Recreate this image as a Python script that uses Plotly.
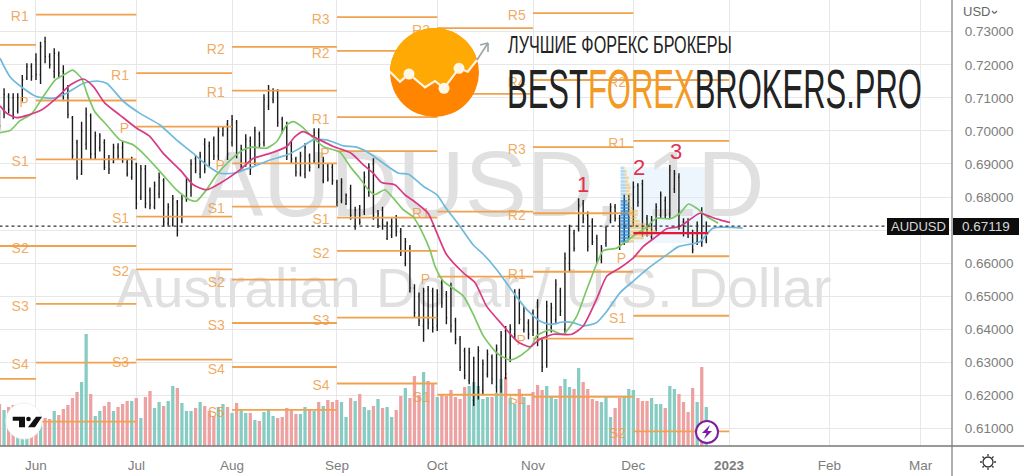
"""AUDUSD daily chart with pivots, moving averages and volume, rebuilt from a screenshot."""

import math

import plotly.graph_objects as go

FONT = "Liberation Sans"
PIVOT_COLOR = "#f0a24e"
GRID = "#e7e7e7"
AXIS_TEXT = "#7d7d7d"
RED_MARK = "#e0334f"

PLOT_W = 952
PLOT_H = 446

# one bar per trading day, 0 is 1 June 2022
BAR_X = list(range(-8, 148))

HIGHS = [
    .7063, .7129, .7114, .7114, .7114, .7169, .7205, .7205, .7235, .7270, .7285, .7235, .7250,
    .7240, .7199, .7139, .7045, .6973, .7028, .7071, .7053, .6998, .6993, .6975, .6927, .6961,
    .6963, .6968, .6912, .6922, .6904, .6897, .6897, .6829, .6847, .6874, .6857, .6781, .6806,
    .6791, .6806, .6857, .6914, .6927, .6937, .6978, .6968, .6983, .7013, .7015, .7033, .7048,
    .7033, .6958, .6990, .6983, .7013, .6998, .7111, .7139, .7129, .7126, .7043, .7028, .6968,
    .6922, .6937, .6963, .6932, .7008, .7008, .6922, .6902, .6902, .6852, .6857, .6811, .6837,
    .6771, .6776, .6877, .6902, .6917, .6761, .6771, .6726, .6736, .6746, .6706, .6676, .6655,
    .6536, .6511, .6526, .6531, .6526, .6521, .6551, .6516, .6541, .6435, .6380, .6344, .6344,
    .6317, .6349, .6309, .6339, .6324, .6354, .6395, .6410, .6415, .6521, .6523, .6470, .6430,
    .6460, .6491, .6375, .6486, .6480, .6551, .6526, .6632, .6716, .6701, .6796, .6791, .6756,
    .6736, .6686, .6655, .6711, .6781, .6779, .6746, .6807, .6807, .6847, .6842, .6852, .6746,
    .6743, .6781, .6817, .6802, .6897, .6882, .6872, .6736, .6736, .6701, .6726, .6769, .6726,
]
LOWS = [
    .7003, .7038, .7053, .7035, .7053, .7089, .7154, .7152, .7154, .7142, .7205, .7189, .7159,
    .7159, .7094, .7038, .6914, .6852, .6867, .6943, .6912, .6912, .6938, .6882, .6870, .6902,
    .6912, .6904, .6862, .6852, .6763, .6791, .6766, .6763, .6763, .6796, .6711, .6713, .6711,
    .6681, .6721, .6786, .6801, .6872, .6857, .6872, .6892, .6912, .6912, .6983, .6912, .6953,
    .6917, .6887, .6892, .6867, .6897, .6948, .6953, .7063, .7084, .7013, .6993, .6912, .6902,
    .6862, .6862, .6857, .6877, .6902, .6887, .6842, .6847, .6837, .6771, .6781, .6776, .6731,
    .6701, .6716, .6746, .6801, .6731, .6706, .6701, .6670, .6676, .6681, .6622, .6591, .6511,
    .6435, .6410, .6362, .6400, .6390, .6395, .6465, .6415, .6390, .6355, .6274, .6249, .6234,
    .6168, .6188, .6203, .6254, .6234, .6208, .6208, .6249, .6301, .6370, .6415, .6390, .6370,
    .6380, .6349, .6271, .6284, .6390, .6415, .6440, .6385, .6576, .6635, .6696, .6721, .6635,
    .6655, .6600, .6600, .6650, .6721, .6726, .6640, .6655, .6670, .6711, .6771, .6681, .6681,
    .6670, .6696, .6736, .6736, .6736, .6812, .6701, .6681, .6676, .6630, .6655, .6650, .6660,
]
OPENS = [
    .7050, .7060, .7105, .7100, .7060, .7100, .7160, .7195, .7215, .7170, .7270, .7225, .7180,
    .7230, .7180, .7120, .7040, .6965, .6870, .6960, .7045, .6930, .6950, .6965, .6915, .6905,
    .6950, .6950, .6905, .6860, .6900, .6800, .6885, .6820, .6770, .6810, .6850, .6720, .6715,
    .6785, .6730, .6795, .6815, .6915, .6870, .6960, .6955, .6975, .6925, .6990, .7020, .6965,
    .7025, .6900, .6905, .6970, .6905, .6990, .6965, .7075, .7095, .7120, .7035, .7015, .6955,
    .6915, .6870, .6870, .6925, .6910, .6995, .6850, .6895, .6890, .6845, .6790, .6780, .6825,
    .6710, .6765, .6755, .6815, .6900, .6715, .6760, .6675, .6685, .6735, .6695, .6600, .6645,
    .6525, .6500, .6410, .6520, .6515, .6410, .6540, .6505, .6525, .6425, .6370, .6335, .6245,
    .6185, .6200, .6215, .6265, .6315, .6225, .6225, .6395, .6315, .6385, .6510, .6400, .6420,
    .6450, .6480, .6365, .6300, .6405, .6430, .6515, .6400, .6600, .6690, .6705, .6780, .6745,
    .6725, .6675, .6610, .6660, .6730, .6770, .6735, .6670, .6680, .6725, .6835, .6840, .6735,
    .6680, .6705, .6745, .6790, .6750, .6825, .6860, .6725, .6725, .6690, .6665, .6755, .6670,
]
CLOSES = [
    .7015, .7110, .7065, .7045, .7100, .7155, .7195, .7165, .7170, .7255, .7225, .7200, .7235,
    .7175, .7110, .7050, .6925, .6860, .7000, .7050, .6930, .6985, .6985, .6890, .6885, .6950,
    .6925, .6915, .6870, .6905, .6780, .6885, .6780, .6775, .6835, .6860, .6725, .6770, .6795,
    .6700, .6795, .6845, .6900, .6880, .6925, .6885, .6905, .6925, .7000, .7010, .6930, .7035,
    .6930, .6945, .6975, .6885, .7000, .6960, .7095, .7125, .7120, .7025, .7005, .6925, .6915,
    .6875, .6925, .6950, .6890, .6995, .6900, .6910, .6855, .6850, .6785, .6845, .6805, .6745,
    .6760, .6725, .6860, .6890, .6745, .6750, .6715, .6720, .6725, .6695, .6635, .6665, .6525,
    .6450, .6425, .6515, .6420, .6405, .6505, .6480, .6435, .6410, .6370, .6285, .6260, .6330,
    .6300, .6335, .6295, .6325, .6250, .6340, .6380, .6265, .6400, .6505, .6430, .6455, .6385,
    .6395, .6365, .6285, .6470, .6465, .6535, .6455, .6615, .6700, .6645, .6775, .6735, .6650,
    .6665, .6610, .6645, .6700, .6770, .6735, .6655, .6790, .6795, .6830, .6785, .6695, .6690,
    .6730, .6770, .6805, .6745, .6880, .6870, .6715, .6690, .6690, .6640, .6715, .6665, .67119,
]
VOLUMES = [
    42, 36, 39, 41, 24, 24, 24, 24, 24, 24, 28, 27, 35, 31, 37, 41, 48, 54, 64, 112, 52, 30, 35,
    40, 44, 35, 39, 42, 45, 45, 48, 28, 49, 55, 38, 44, 40, 45, 60, 58, 43, 35, 35, 38, 44, 40,
    35, 30, 39, 42, 39, 33, 43, 37, 33, 33, 26, 25, 34, 36, 30, 28, 29, 38, 36, 32, 32, 39, 36,
    35, 44, 40, 46, 44, 46, 44, 29, 48, 45, 52, 39, 36, 40, 47, 38, 39, 29, 36, 50, 58, 48, 70,
    51, 74, 65, 62, 49, 52, 50, 56, 49, 47, 59, 60, 64, 60, 47, 49, 49, 53, 67, 69, 48, 42, 57,
    49, 41, 54, 61, 56, 60, 49, 47, 60, 67, 59, 57, 78, 64, 57, 47, 45, 44, 49, 29, 38, 48, 50,
    57, 56, 48, 45, 45, 48, 42, 42, 38, 60, 57, 52, 44, 34, 58, 44, 79, 39,
]

GREEN_X = [
    -7.9, -5.7, -3.5, -1, 1.6, 4.2, 6.4, 8, 10, 11.3, 12.9, 15.5, 18.4, 21.3, 23.5, 27.2, 30.8,
    33.8, 35.2, 37.4, 39.6, 42.5, 45.5, 47.3, 50.6, 52.8, 55, 56.4, 58.3, 60.5, 63, 66.7, 68.9,
    71, 72.9, 74.3, 76.5, 78.4, 80.6, 82.8, 84.6, 86.4, 87.5, 89.3, 93.7, 95.9, 98.1, 101, 103.9,
    106.1, 108.7, 109.8, 112.7, 115.6, 118.6, 120.4, 122.9, 124.4, 127.3, 128.8, 131.7, 133.6,
    136.1, 139, 141.2, 143.1, 144.9, 147.1, 149.6,
]
GREEN_MA = [
    .6995, .7001, .7031, .7051, .7104, .7154, .7172, .7184, .7159, .7109, .7058, .7018, .6973,
    .6958, .6932, .6877, .6822, .6791, .6788, .6822, .6867, .6910, .6943, .6951, .6948, .6968,
    .7018, .7028, .7013, .6983, .6953, .6935, .6892, .6857, .6822, .6807, .6822, .6796, .6761,
    .6739, .6696, .6640, .6591, .6546, .6501, .6445, .6380, .6329, .6307, .6319, .6349, .6380,
    .6398, .6385, .6440, .6506, .6596, .6638, .6645, .6660, .6689, .6706, .6736, .6734, .6751,
    .6779, .6766, .6741, .6721,
]
PINK_X = [
    -7.9, -6.4, -4.2, -1.7, 1.2, 4.5, 7.5, 10.4, 12.6, 15.1, 18.4, 22.1, 25, 27.9, 31.6, 34.5,
    37.4, 40.4, 44.7, 47.7, 51.3, 55, 56.8, 58.6, 61.5, 65.2, 69.2, 71.8, 74, 75.8, 78.7, 80.9,
    83.5, 86, 88.2, 90, 93.7, 96.3, 98.8, 102.5, 105.5, 108.3, 110.5, 113.5, 117.5, 120, 122.9,
    125.2, 128.1, 131, 133.2, 136.1, 138.3, 141.2, 143.8, 145.6, 147.8, 150, 152.2,
]
PINK_MA = [
    .7076, .7053, .7040, .7048, .7063, .7099, .7139, .7157, .7134, .7084, .7048, .7008, .6983,
    .6932, .6882, .6837, .6822, .6842, .6882, .6917, .6932, .6953, .6983, .6998, .6978, .6953,
    .6932, .6897, .6872, .6844, .6837, .6807, .6781, .6751, .6682, .6627, .6571, .6541, .6470,
    .6410, .6364, .6347, .6370, .6385, .6385, .6410, .6490, .6561, .6586, .6616, .6651, .6681,
    .6704, .6711, .6736, .6751, .6741, .6731, .6723,
]
BLUE_X = [
    -7.9, -5.7, -2.8, .1, 3.8, 6.7, 10.4, 13.3, 15.5, 19.2, 22.8, 27.2, 30.8, 34.5, 37.4, 40.4,
    43.3, 47.7, 51.3, 55, 57.9, 60.8, 63.7, 67.4, 70.3, 73.2, 76.2, 79.5, 81.7, 85, 87.9, 89.7,
    93, 95.9, 98.1, 101, 104.7, 107.6, 110.5, 112.7, 115.6, 117.8, 120, 122.9, 125.2, 128.1, 131,
    134.3, 138.3, 140.9, 145.6, 148.5, 155,
]
BLUE_MA = [
    .7220, .7164, .7129, .7104, .7099, .7114, .7144, .7151, .7144, .7089, .7053, .7018, .6973,
    .6932, .6897, .6872, .6872, .6892, .6912, .6927, .6948, .6973, .6973, .6955, .6951, .6932,
    .6902, .6872, .6869, .6832, .6807, .6771, .6711, .6655, .6627, .6581, .6511, .6460, .6425,
    .6415, .6422, .6420, .6410, .6420, .6455, .6511, .6546, .6585, .6625, .6650, .6665, .6706,
    .6706,
]

# monthly pivot levels
PIVOT_NAME = [
    "", "", "", "",
    "R1", "P", "S1", "S2", "S3", "S4", "S5",
    "R1", "P", "S1", "S2", "S3",
    "R2", "R1", "P", "S1", "S2", "S3", "S4", "S5",
    "R3", "R2", "R1", "P", "S1", "S2", "S3", "S4",
    "R3", "R2", "R1", "P", "S1",
    "R5", "R4", "R3", "R2", "R1", "P", "S1",
    "R2", "R1", "P", "S1", "S2",
]
PIVOT_START = [-8] * 4 + [0] * 7 + [22] * 5 + [43] * 8 + [66] * 8 + [88] * 5 + [109] * 7 + [131] * 5
PIVOT_END = [0] * 4 + [22] * 7 + [43] * 5 + [66] * 8 + [88] * 8 + [109] * 5 + [131] * 7 + [152] * 5
PIVOT_LEVEL = [
    .7260, .6858, .6652, .6250,
    .7352, .7092, .6914, .6652, .6477, .6299, .6121,
    .7175, .7013, .6741, .6581, .6308,
    .7254, .7122, .6902, .6771, .6550, .6419, .6286, .6156,
    .7344, .7242, .7042, .6939, .6738, .6637, .6435, .6236,
    .7311, .7112, .6756, .6559, .6202,
    .7356, .7154, .6951, .6751, .6574, .6372, .6196,
    .7154, .6970, .6621, .6441, .6091,
]

# volume profile of the last month, lengths in bars
VP_PRICE = [
    .6888, .6878, .6868, .6858, .6847, .6837, .6828, .6818, .6808, .6797, .6787, .6777, .6767,
    .6757, .6747, .6737, .6727, .6717, .6707, .6696, .6686, .6676, .6666,
]
VP_BLUE = [
    .7, .9, .9, 1.1, .9, 1.1, 1.3, 1.1, 1.3, 1.3, 1.5, 1.8, 1.8, 1.8, 1.8, 2, 2, 2, 2, 2, 2, 2, 1.8,
]
VP_YELLOW = [
    .2, .4, .4, .7, .7, .9, .9, .9, 1.1, .7, .7, .4, .9, 2, 2, 1.5, 2.2, 3.5, 4.8, 5.7, 4.8, 3.1, 1.1,
]
VP_START = 128.2
VP_END = 147.4
POC_PRICE = .6691

LAST_PRICE = .67119

PRICE_TICKS = [.61, .62, .63, .64, .65, .66, .67, .68, .69, .70, .71, .72, .73]
MONTH_TICKS = [0, 22, 43, 66, 88, 109, 131, 152, 174, 194]
MONTH_LABELS = ["Jun", "Jul", "Aug", "Sep", "Oct", "Nov", "Dec", "<b>2023</b>", "Feb", "Mar"]

WAVE_X = [120, 132.2, 140.3]
WAVE_Y = [.6837, .6888, .6939]
WAVE_TEXT = ["1", "2", "3"]

# no narrow face is installed, so the brand lines get squeezed to their width once drawn
SQUEEZE_JS = """
document.body.style.margin = '0';
var widths = {'BEST': 415, 'ЛУЧШ': 224};
document.querySelectorAll('.annotation-text').forEach(function (t) {
    var w = widths[t.textContent.slice(0, 4)];
    if (!w) return;
    var b = t.getBBox();
    t.setAttribute('transform',
        'translate(' + b.x + ',0) scale(' + (w / b.width) + ',1) translate(' + (-b.x) + ',0)');
});
"""


def px(x, y):
    """Screen pixels to paper coordinates."""
    return x / PLOT_W, 1 - y / PLOT_H


def path(points, close=True):
    parts = []
    for n, (x, y) in enumerate(points):
        pap_x, pap_y = px(x, y)
        parts.append(f"{'M' if n == 0 else 'L'}{pap_x:.5f},{pap_y:.5f}")
    return " ".join(parts) + (" Z" if close else "")


def paper_shape(**kw):
    return dict(xref="paper", yref="paper", layer="above", **kw)


def circle(cx, cy, r, **kw):
    x0, y0 = px(cx - r, cy + r)
    x1, y1 = px(cx + r, cy - r)
    return paper_shape(type="circle", x0=x0, y0=y0, x1=x1, y1=y1, **kw)


def segment(x0, y0, x1, y1, color, width):
    a, b = px(x0, y0)
    c, d = px(x1, y1)
    return paper_shape(type="line", x0=a, y0=b, x1=c, y1=d, line=dict(color=color, width=width))


def box(x0, y0, x1, y1, color):
    a, b = px(x0, y1)
    c, d = px(x1, y0)
    return paper_shape(type="rect", x0=a, y0=b, x1=c, y1=d, fillcolor=color, line=dict(width=0))


def logo_shapes():
    cx, cy, r = 434.5, 72.5, 44.5
    zigzag = [(390, 71.7), (400, 81.7), (409, 74), (425, 87.3), (435, 81), (444, 88.3),
              (459, 68.3), (467.7, 71.7), (477, 60)]
    # upper part of the disc, arc drawn as a polyline over the top
    arc = []
    a0 = math.atan2(zigzag[-1][1] - cy, zigzag[-1][0] - cx)
    a1 = math.atan2(zigzag[0][1] - cy, zigzag[0][0] - cx)
    for k in range(41):
        ang = a0 + (a1 - a0) * k / 40
        arc.append((cx + r * math.cos(ang), cy + r * math.sin(ang)))
    shapes = [
        circle(cx, cy, r, fillcolor="#ff8500", line=dict(width=0)),
        paper_shape(type="path", path=path(arc + zigzag), fillcolor="#ffa905", line=dict(width=0)),
        paper_shape(type="path", path=path(zigzag, close=False), line=dict(color="#fff6e6", width=2.2)),
        segment(477, 60, 488, 43, "#9aa3a8", 1.6),
        segment(488, 43, 480, 45, "#9aa3a8", 1.6),
        segment(488, 43, 488, 52, "#9aa3a8", 1.6),
    ]
    for dot_x, dot_y in [(409, 74), (444, 88.3), (459, 68.3)]:
        shapes.append(circle(dot_x, dot_y, 5.5, fillcolor="#fff6e6", line=dict(width=0)))
    return shapes


def badge_shapes():
    shapes = [
        # TradingView badge
        circle(24, 421, 18, fillcolor="white", line=dict(color="#f1f1f1", width=1)),
        paper_shape(type="path", fillcolor="#111", line=dict(width=0), path=path(
            [(12.7, 416.7), (25, 416.7), (25, 427.3), (19, 427.3), (19, 420.7), (12.7, 420.7)])),
        circle(28.5, 419, 2.3, fillcolor="#111", line=dict(width=0)),
        paper_shape(type="path", fillcolor="#111", line=dict(width=0), path=path(
            [(36, 416.7), (42, 416.7), (35, 427.3), (28, 427.3)])),
        # lightning badge
        circle(707, 432, 11, fillcolor="white", line=dict(color="#7b1fa2", width=2)),
        paper_shape(type="path", fillcolor="#7b1fa2", line=dict(width=0), path=path(
            [(710, 425), (702, 433), (706.5, 433), (704, 439), (712, 431), (707.5, 431)])),
    ]
    return shapes


def chrome_shapes():
    shapes = [
        segment(952, 0, 952, 476, "#8c8c8c", 1.4),
        segment(0, 446, 1024, 446, "#777777", 1.6),
        box(887, 218, 949, 235, "#0d0d0d"),
        box(953, 218, 1019, 235, "#0d0d0d"),
        # currency chevron
        segment(992, 11, 994.5, 13.5, "#666", 1.2),
        segment(994.5, 13.5, 997, 11, "#666", 1.2),
        # settings sun
        circle(988, 462, 5, fillcolor="white", line=dict(color="#333", width=1.3)),
    ]
    for x0, y0, x1, y1 in [(988, 454, 988, 456), (988, 468, 988, 470), (980, 462, 982, 462), (994, 462, 996, 462),
                           (982.5, 456.5, 984, 458), (992, 466, 993.5, 467.5), (982.5, 467.5, 984, 466),
                           (992, 458, 993.5, 456.5)]:
        shapes.append(segment(x0, y0, x1, y1, "#333", 1.3))
    return shapes


def text_note(x, y, text, size, color, xanchor="center"):
    pap_x, pap_y = px(x, y)
    return dict(xref="paper", yref="paper", x=pap_x, y=pap_y, text=text, showarrow=False,
                xanchor=xanchor, yanchor="middle", font=dict(family=FONT, size=size, color=color))


fig = go.Figure()

# watermark goes first so everything else sits on top of it
fig.add_trace(go.Scatter(
    x=[98, 96], y=[253, 153], mode="text", text=["AUDUSD, 1D", "Australian Dollar / U.S. Dollar"],
    textposition="middle center", textfont=dict(family=FONT, size=[93, 55], color="#e0e0e0"),
    hoverinfo="skip", showlegend=False,
))

vol_colors = ["#86ccc2" if c >= o else "#eda1a1" for o, c in zip(OPENS, CLOSES)]
fig.add_trace(go.Bar(x=BAR_X, y=VOLUMES, width=0.72, marker=dict(color=vol_colors, line_width=0), showlegend=False))

# month pivots
pivot_x, pivot_y = [], []
for start, end, level in zip(PIVOT_START, PIVOT_END, PIVOT_LEVEL):
    pivot_x += [start, end, None]
    pivot_y += [level, level, None]
fig.add_trace(go.Scatter(x=pivot_x, y=pivot_y, mode="lines", yaxis="y2", showlegend=False,
                         line=dict(color=PIVOT_COLOR, width=1.8)))
fig.add_trace(go.Scatter(
    x=[s - 1.6 for s in PIVOT_START], y=[lv - .0010 for lv in PIVOT_LEVEL], text=PIVOT_NAME, yaxis="y2",
    mode="text", textposition="middle left", textfont=dict(family=FONT, size=14, color="rgba(238,155,70,0.85)"),
    showlegend=False,
))

# volume profile, thin rows at the top are paler than the busy ones below
pale_x, pale_y, blue_x, blue_y, yellow_x, yellow_y = [], [], [], [], [], []
for price, blue, yellow in zip(VP_PRICE, VP_BLUE, VP_YELLOW):
    if blue < 1.4:
        pale_x += [VP_START, VP_START + blue, None]
        pale_y += [price, price, None]
    else:
        blue_x += [VP_START, VP_START + blue, None]
        blue_y += [price, price, None]
    yellow_x += [VP_START + blue, VP_START + blue + yellow, None]
    yellow_y += [price, price, None]
for seg_x, seg_y, color in [(pale_x, pale_y, "rgba(90,170,230,0.4)"), (blue_x, blue_y, "rgba(40,140,225,0.75)"),
                            (yellow_x, yellow_y, "rgba(240,190,90,0.6)")]:
    fig.add_trace(go.Scatter(x=seg_x, y=seg_y, mode="lines", yaxis="y2", showlegend=False,
                             line=dict(color=color, width=2.6)))

for ma_x, ma_y, color in [(BLUE_X, BLUE_MA, "#6fb9dc"), (GREEN_X, GREEN_MA, "#7cc766"), (PINK_X, PINK_MA, "#d83a84")]:
    fig.add_trace(go.Scatter(x=ma_x, y=ma_y, mode="lines", yaxis="y2", showlegend=False,
                             line=dict(color=color, width=1.7, shape="spline", smoothing=0.6)))

fig.add_trace(go.Ohlc(
    x=BAR_X, open=OPENS, high=HIGHS, low=LOWS, close=CLOSES, yaxis="y2", tickwidth=0.2, showlegend=False,
    increasing=dict(line=dict(color="#1b1b1b", width=1.4)), decreasing=dict(line=dict(color="#1b1b1b", width=1.4)),
))
fig.add_trace(go.Scatter(x=[131, VP_END], y=[POC_PRICE, POC_PRICE], mode="lines", yaxis="y2", showlegend=False,
                         line=dict(color="#e5173f", width=2.2)))

shapes = [
    dict(type="rect", xref="x", yref="y2", x0=VP_START, x1=VP_END, y0=.6661, y1=.6890, layer="below",
         fillcolor="rgba(187,222,245,0.28)", line=dict(width=0)),
    dict(type="line", xref="x", yref="y2", x0=-8, x1=186.6, y0=LAST_PRICE, y1=LAST_PRICE, layer="above",
         line=dict(color="#333", width=1.2, dash="dot")),
]
shapes += logo_shapes() + badge_shapes() + chrome_shapes()

annotations = [
    text_note(506, 45, "ЛУЧШИЕ ФОРЕКС БРОКЕРЫ", 24, "#222", "left"),
    text_note(505, 88, '<span style="color:#222">BEST</span><span style="color:#f39a25">FOREX</span>'
                       '<span style="color:#222">BROKERS.PRO</span>', 56, "#222", "left"),
    text_note(977, 12, "USD", 13, "#666"),
    text_note(918, 226.5, "AUDUSD", 13, "#d8d8d8"),
    text_note(986, 226.5, "0.67119", 13.5, "#d8d8d8"),
]
for wave_x, wave_y, wave in zip(WAVE_X, WAVE_Y, WAVE_TEXT):
    annotations.append(dict(xref="x", yref="y2", x=wave_x, y=wave_y, text=wave, showarrow=False,
                            font=dict(family=FONT, size=22, color=RED_MARK)))

fig.update_layout(
    width=1024, height=476, margin=dict(l=0, r=72, t=0, b=30),
    paper_bgcolor="white", plot_bgcolor="white", showlegend=False, bargap=0.3,
    font=dict(family=FONT, size=13, color=AXIS_TEXT), shapes=shapes, annotations=annotations,
    xaxis=dict(
        range=[-7.89, 200.88], tickvals=MONTH_TICKS, ticktext=MONTH_LABELS, showgrid=True, gridcolor=GRID, gridwidth=1.4,
        zeroline=False, ticks="outside", ticklen=7, tickcolor="rgba(0,0,0,0)", rangeslider=dict(visible=False),
        tickfont=dict(size=13.5, color=AXIS_TEXT),
    ),
    yaxis=dict(range=[0, PLOT_H], visible=False, fixedrange=True),
    yaxis2=dict(
        range=[.6047, .7396], overlaying="y", side="right", tickvals=PRICE_TICKS,
        ticktext=["" if t == .67 else f"{t:.5f}" for t in PRICE_TICKS], showgrid=True, gridcolor=GRID, gridwidth=1.4,
        zeroline=False, ticks="outside", ticklen=9, tickcolor="rgba(0,0,0,0)", tickfont=dict(size=13.5, color=AXIS_TEXT),
    ),
)

fig.write_html("out.html", post_script=SQUEEZE_JS, config=dict(displayModeBar=False))
